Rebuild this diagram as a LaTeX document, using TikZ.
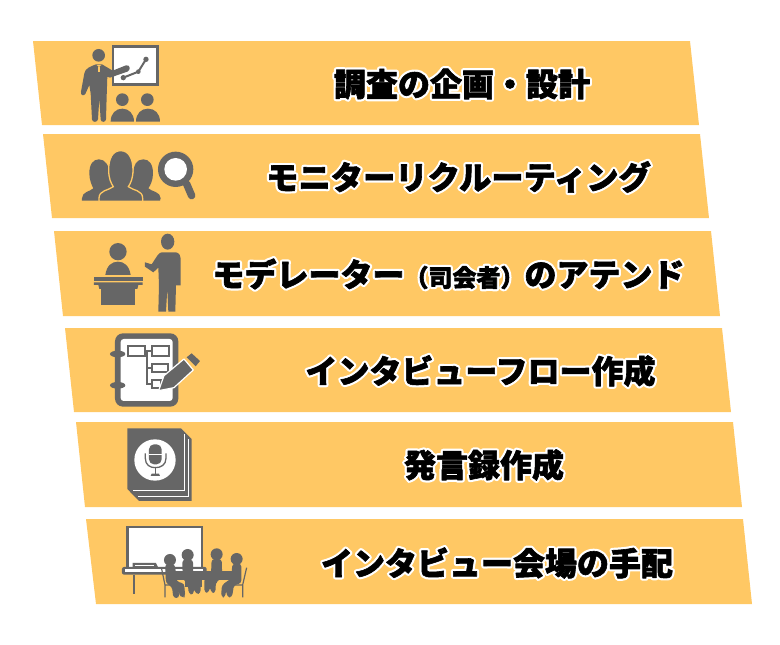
\documentclass[tikz,border=0pt]{standalone}
\usepackage{fontspec}
\newfontfamily\jp{Noto Sans CJK JP}
\newcommand\halo[1]{\leavevmode\rlap{\special{pdf:code 2 Tr 1 1 1 rg 1 1 1 RG 5 w 1 j}#1\special{pdf:code 2 Tr 0 0 0 rg 0 0 0 RG 0.6 w}}#1\special{pdf:code 0 Tr 0 0 0 rg 0 0 0 RG 1 w}}
\definecolor{barfill}{HTML}{FFC864}
\definecolor{icon}{HTML}{666666}
\tikzset{
  bar/.style={fill=barfill,draw=none},
  lbl/.style={inner sep=0pt,font=\jp\bfseries\fontsize{32}{36}\selectfont,text=black},
  ic/.style={fill=icon,draw=none},
  icw/.style={fill=white,draw=none},
  icl/.style={draw=icon,line cap=round,line join=round},
}
\begin{document}
\begin{tikzpicture}[x=1pt,y=-1pt]
\useasboundingbox (0,0) rectangle (780,645);
\fill[white] (0,0) rectangle (780,645);
% bars
\fill[bar] (33,41) -- (690,41) -- (699,125) -- (42,125) -- cycle;
\fill[bar] (43,134) -- (700,134) -- (709,218) -- (52,218) -- cycle;
\fill[bar] (54,231) -- (711,231) -- (720,316) -- (63,316) -- cycle;
\fill[bar] (65,328) -- (722,328) -- (731,412) -- (74,412) -- cycle;
\fill[bar] (76,422) -- (733,422) -- (742,507) -- (85,507) -- cycle;
\fill[bar] (86,519) -- (743,519) -- (752,604) -- (96,604) -- cycle;
% labels
\node[lbl] (t1) at (462,84) {\halo{調査の企画・設計}};
\node[lbl,font=\jp\bfseries\fontsize{32.3}{36}\selectfont] (t2) at (458.5,177) {\halo{モニターリクルーティング}};
\node[lbl] (t3) at (448.5,274) {\halo{モデレーター{\fontsize{24}{28}\selectfont（司会者）}のアテンド}};
\node[lbl] (t4) at (480.5,371) {\halo{インタビューフロー作成}};
\node[lbl] (t5) at (484,465) {\halo{発言録作成}};
\node[lbl] (t6) at (497,563) {\halo{インタビュー会場の手配}};
% icon 1 and 2
\begin{scope}[shift={(30,30)},x=0.3333pt,y=-0.3333pt]
  \filldraw[fill=white,draw=icon,line width=2.5pt] (249,50) rectangle (382,163);
  \draw[icl,line width=2pt] (280,143) -- (325,125) -- (348,88);
  \fill[icon] (280,143) circle[radius=8] (325,125) circle[radius=7] (348,88) circle[radius=8];
  \fill[icon] (206,76) circle[radius=19];
  \fill[ic] (198,103) -- (216,103) -- (248,122) -- (288,106) .. controls (300,103) and (304,120) .. (292,125) -- (240,143) -- (232,140) -- (230,200) -- (228,268) .. controls (227,278) and (213,278) .. (212,268) -- (208,205) -- (204,268) .. controls (202,278) and (187,278) .. (186,268) -- (182,190) -- (178,165) -- (166,192) .. controls (160,200) and (151,195) .. (153,185) -- (163,130) .. controls (166,115) and (180,110) .. (198,103) -- cycle;
  \fill[barfill] (200,105) -- (214,105) -- (207,111) -- cycle;
  \fill[barfill] (205,112) rectangle (209,125);
  \fill[icon] (277,209) circle[radius=19] (352,209) circle[radius=19];
  \fill[ic] (242,275) .. controls (242,250) and (258,236) .. (277,236) .. controls (296,236) and (312,250) .. (312,275) -- cycle;
  \fill[ic] (318,275) .. controls (318,250) and (334,236) .. (354,236) .. controls (374,236) and (390,250) .. (390,275) -- cycle;
  % icon 2
  \fill[ic] (207,388) .. controls (190,388) and (178,402) .. (178,430) .. controls (178,450) and (185,465) .. (190,475) .. controls (180,485) and (156,485) .. (156,505) -- (156,512) -- (390,512) -- (392,505) .. controls (392,485) and (365,485) .. (355,475) .. controls (362,465) and (369,450) .. (369,430) .. controls (369,402) and (357,388) .. (340,388) .. controls (320,388) and (310,405) .. (310,430) -- (240,430) .. controls (236,405) and (225,388) .. (207,388) -- cycle;
  \filldraw[fill=icon,draw=barfill,line width=1.3pt] (272,362) .. controls (248,362) and (236,385) .. (236,420) .. controls (236,445) and (243,460) .. (250,470) .. controls (235,482) and (207,480) .. (207,505) -- (207,514) -- (338,514) -- (338,505) .. controls (338,480) and (310,482) .. (295,470) .. controls (302,460) and (309,445) .. (309,420) .. controls (309,385) and (296,362) .. (272,362) -- cycle;
  \draw[icon,line width=7.5pt,line cap=round] (470,462) -- (485,497);
  \fill[icon] (437,418) circle[radius=53];
  \fill[white] (437,418) circle[radius=34];
\end{scope}
% icon 3 and 4
\begin{scope}[shift={(50,225)},x=0.3333pt,y=-0.3333pt]
  \fill[icon] (204,80) circle[radius=26];
  \fill[ic] (166,150) .. controls (170,122) and (185,110) .. (204,110) .. controls (222,110) and (238,122) .. (242,150) -- cycle;
  \fill[ic] (132,155) rectangle (278,168);
  \fill[ic] (132,172) -- (278,172) -- (278,180) -- (265,180) -- (262,192) -- (148,192) -- (145,180) -- (132,180) -- cycle;
  \fill[ic] (152,188) rectangle (256,239);
  \fill[icon] (353,50) ellipse[x radius=20,y radius=24];
  \fill[ic] (335,82) -- (378,82) .. controls (388,84) and (392,92) .. (392,100) -- (392,181) -- (378,181) -- (376,260) -- (355,260) -- (352,190) -- (348,260) -- (325,260) -- (327,180) -- (325,128) -- (310,142) -- (285,125) -- (285,112) -- (305,118) -- (322,92) .. controls (326,86) and (330,83) .. (335,82) -- cycle;
  % icon 4
  \fill[icon,rounded corners=8pt] (195,325) rectangle (385,545);
  \fill[white,rounded corners=3pt] (212,342) rectangle (368,528);
  \fill[icon] (203,387) ellipse[x radius=23,y radius=10];
  \fill[icon] (203,481) ellipse[x radius=23,y radius=10];
  \draw[icon,line width=1.8pt] (285,378) -- (305,378) (292,378) -- (292,478) -- (305,478) (292,428) -- (305,428);
  \filldraw[fill=white,draw=icon,line width=1.8pt] (234,363) rectangle (284,394);
  \filldraw[fill=white,draw=icon,line width=1.8pt] (306,363) rectangle (356,394);
  \filldraw[fill=white,draw=icon,line width=1.8pt] (306,416) rectangle (354,442);
  \filldraw[fill=white,draw=icon,line width=1.8pt] (306,466) rectangle (332,490);
  \filldraw[fill=icon,draw=white,line width=1.2pt,line join=round] (326,497) -- (342,452) -- (402,402) -- (430,435) -- (372,488) -- cycle;
  \fill[ic] (410,397) -- (425,385) -- (450,408) -- (437,424) -- cycle;
\end{scope}
% icon 5 and 6
\begin{scope}[shift={(70,415)},x=0.3333pt,y=-0.3333pt]
  \fill[ic] (172,40) -- (333,40) -- (365,72) -- (365,258) -- (207,258) -- (172,222) -- cycle;
  \draw[white,line width=1pt] (190,228) -- (343,228) -- (343,58);
  \draw[white,line width=1pt] (205,244) -- (356,244) -- (356,72);
  \fill[white] (255,135) circle[radius=62];
  \fill[icon,rounded corners=5pt] (237,88) rectangle (275,148);
  \fill[white] (237,116) rectangle (275,120);
  \draw[icon,line width=1.3pt] (226,115) -- (226,130) .. controls (226,150) and (240,158) .. (256,158) .. controls (272,158) and (288,150) .. (288,130) -- (288,115);
  \draw[icon,line width=1.6pt] (256,158) -- (256,176);
  \fill[ic] (245,176) -- (267,176) -- (270,183) -- (242,183) -- cycle;
  % icon 6
  \filldraw[fill=white,draw=icon,line width=2.5pt] (172,336) rectangle (396,465);
  \fill[ic] (188,444) -- (258,444) -- (264,456) -- (188,456) -- cycle;
  \fill[white] (196,449) rectangle (252,452);
  \fill[icon,rounded corners=2pt] (156,456) rectangle (410,479);
  \fill[white] (166,463) rectangle (400,471);
  \draw[icon,line width=1.5pt] (192,479) -- (192,538);
  \draw[icon,line width=1.2pt] (275,462) -- (285,510) -- (285,547) (285,510) -- (340,510) -- (342,547);
  \draw[icon,line width=1.2pt] (530,458) -- (518,510) -- (518,547) (518,510) -- (465,510) -- (460,547);
  \fill[ic] (310,468) rectangle (485,495);
  \fill[ic] (345,490) rectangle (395,515);
  \fill[ic] (410,490) rectangle (440,505);
  \fill[icon] (300,435) circle[radius=18] (353,420) circle[radius=18] (440,418) circle[radius=18] (500,432) circle[radius=18];
  \fill[ic,rounded corners=3pt] (285,448) -- (315,448) -- (320,500) -- (342,505) -- (346,545) -- (330,547) -- (325,520) -- (328,549) -- (310,549) -- (306,515) -- (288,505) -- cycle;
  \fill[ic,rounded corners=3pt] (337,434) -- (369,434) -- (370,490) -- (392,500) -- (392,535) -- (378,538) -- (372,520) -- (370,540) -- (356,536) -- (354,510) -- (338,490) -- cycle;
  \fill[ic,rounded corners=3pt] (425,432) -- (455,432) -- (457,490) -- (438,500) -- (436,534) -- (424,534) -- (420,515) -- (416,534) -- (403,532) -- (403,490) -- (423,480) -- cycle;
  \fill[ic,rounded corners=3pt] (487,446) -- (514,446) -- (514,505) -- (492,510) -- (486,547) -- (472,547) -- (468,525) -- (466,547) -- (453,545) -- (456,510) -- (484,490) -- cycle;
\end{scope}
\end{tikzpicture}
\end{document}
